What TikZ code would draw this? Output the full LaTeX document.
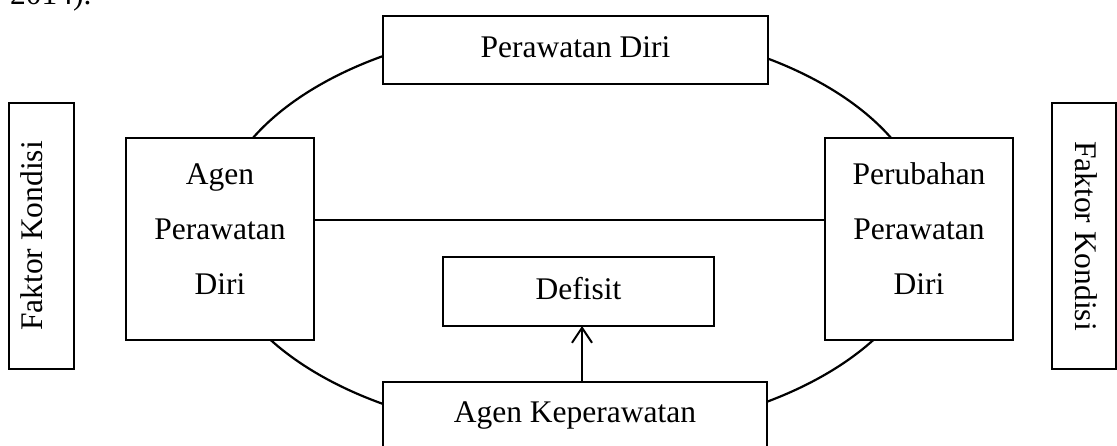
\documentclass[tikz,border=0pt]{standalone}
\usepackage{fontspec}
\setmainfont{Liberation Serif}
\usetikzlibrary{arrows.meta}
\tikzset{
  txt/.style={font=\fontsize{31.5}{55}\selectfont},
  box/.style={txt, draw, line width=1.2pt, fill=white, inner sep=0pt, outer sep=0pt, align=center},
  ring/.style={line width=2.2pt},
  link/.style={line width=2pt},
  arr/.style={line width=2pt, -{Straight Barb[length=15pt,width=20pt]}}
}
\begin{document}
\begin{tikzpicture}[x=1pt,y=-1pt]
\useasboundingbox (0,0) rectangle (1117,445);

% tail of the preceding sentence
\node[txt, anchor=base west, inner sep=0pt] (cite) at (10,4.5) {2014).};

% the cycle
\coordinate (hub) at (572,230);
\draw[ring] (hub) ellipse [x radius=357pt, y radius=205pt];

% boxes on the cycle
\node[box, anchor=north west, minimum width=385pt, minimum height=68pt,
      text height=22pt, text depth=7pt] (self) at (383,16) {Perawatan Diri};
\node[box, anchor=north west, minimum width=188pt, minimum height=202pt,
      text depth=20pt] (agent) at (126,138) {Agen\\Perawatan\\Diri};
\node[box, anchor=north west, minimum width=188pt, minimum height=202pt,
      text depth=20pt] (change) at (825,138) {Perubahan\\Perawatan\\Diri};
\node[box, anchor=north west, minimum width=384pt, inner ysep=18pt,
      text height=22pt, text depth=40pt] (nursing) at (383,382) {Agen Keperawatan};

% inner box
\node[box, anchor=north west, minimum width=271pt, minimum height=69pt,
      text height=22pt, text depth=7pt] (deficit) at (443,257) {Defisit};

% side boxes
\node[box, rotate=90, anchor=base, minimum width=266pt,
      text height=33pt, text depth=32pt] (condL) at (42,236) {Faktor Kondisi};
\node[box, rotate=-90, anchor=base, minimum width=266pt,
      text height=41pt, text depth=23pt] (condR) at (1075,236) {Faktor Kondisi};

% connectors
\draw[link] ([yshift=19pt]agent.east) -- ([yshift=19pt]change.west);
\coordinate (tip) at ([xshift=3.5pt]deficit.south);
\draw[arr] (tip |- nursing.north) -- (tip);
\end{tikzpicture}
\end{document}
